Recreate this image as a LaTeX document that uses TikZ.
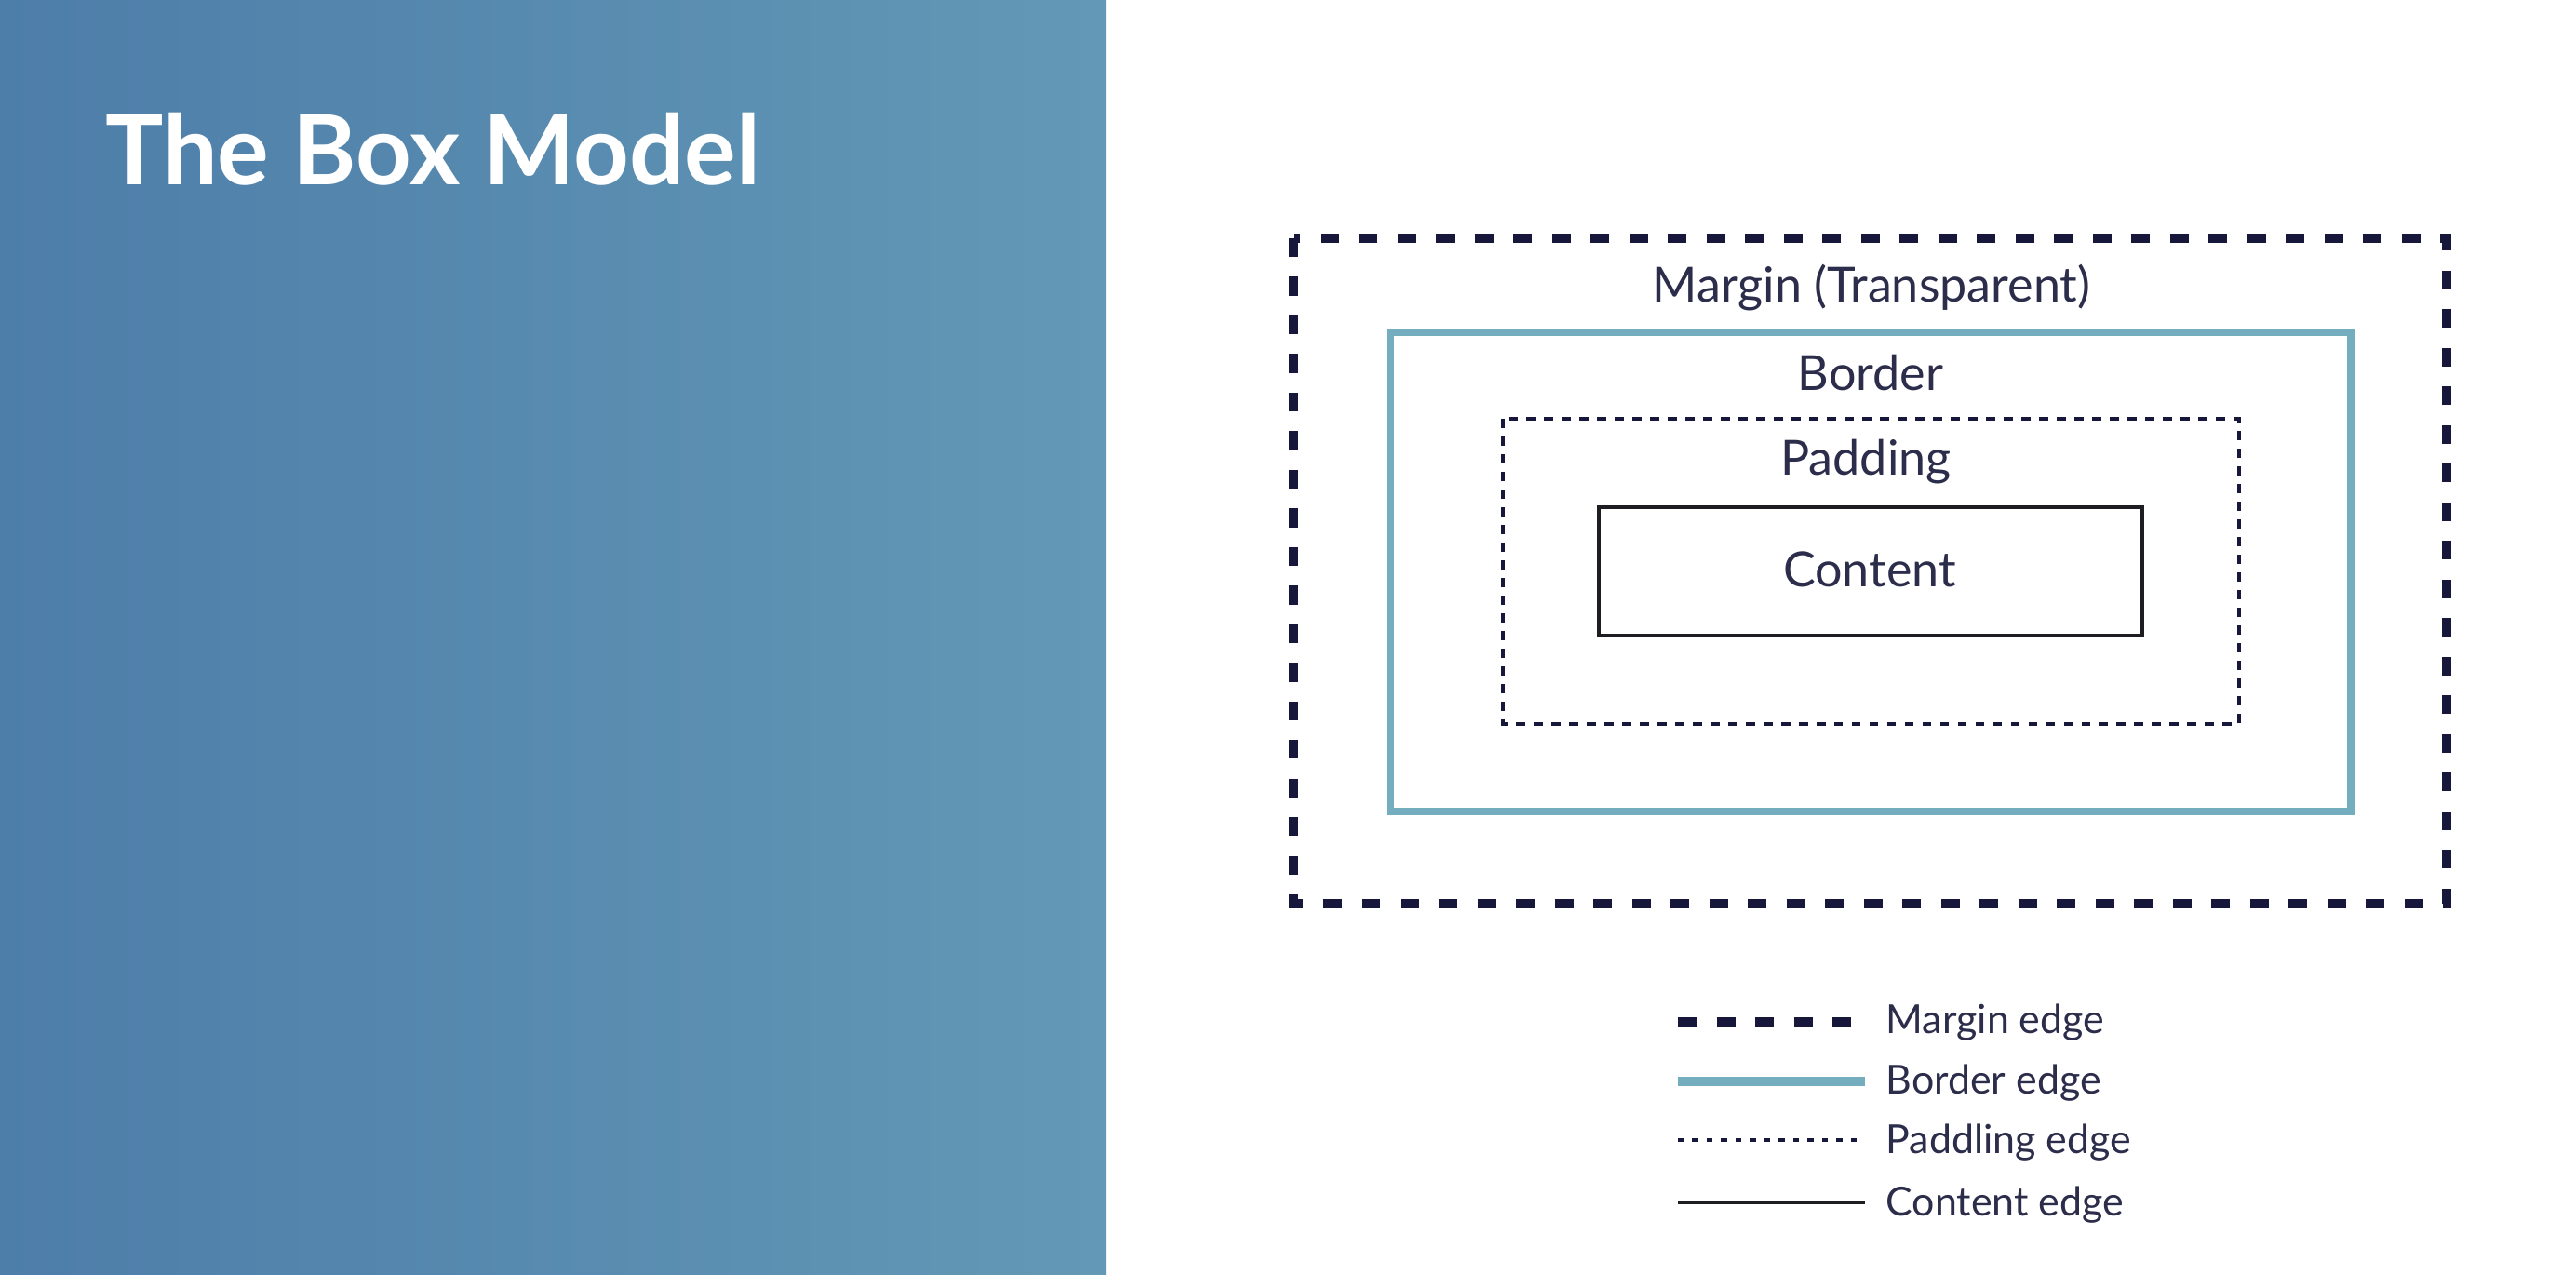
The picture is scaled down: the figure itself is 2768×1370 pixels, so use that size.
\documentclass[tikz,border=0pt]{standalone}
\usepackage{fontspec}
\setmainfont{Lato}
\definecolor{panelL}{HTML}{4D7DA9}
\definecolor{panelR}{HTML}{6399B6}
\definecolor{navy}{HTML}{16173A}
\definecolor{teal}{HTML}{74AEBE}
\definecolor{ink}{HTML}{2B2D4A}
\definecolor{cedge}{HTML}{1E1E22}
\begin{document}
\begin{tikzpicture}[x=0.01cm,y=-0.01cm,
  marginline/.style={draw=navy,line width=2.85pt,dash pattern=on 5.7pt off 6.1pt},
  borderline/.style={draw=teal,line width=2.3pt},
  paddingline/.style={draw=navy,line width=1.1pt,dash pattern=on 2.8pt off 2.6pt},
  contentline/.style={draw=cedge,line width=1.4pt},
  lbl/.style={text=ink,font=\fontsize{14.8}{16}\selectfont,inner sep=0pt},
  leg/.style={text=ink,font=\fontsize{12.2}{14}\selectfont,inner sep=0pt,anchor=west}]
\useasboundingbox (0,0) rectangle (2768,1370);
\fill[white] (0,0) rectangle (2768,1370);
\shade[left color=panelL,right color=panelR] (0,0) rectangle (1188,1370);
\node[anchor=base west,text=white,font=\bfseries\fontsize{29.6}{32}\selectfont,inner sep=0pt] (title) at (113,199) {The Box Model};
% boxes
\draw[marginline] (1390,256) rectangle (2629,971);
\draw[borderline] (1494,357) rectangle (2526,872);
\draw[paddingline] (1615,450) rectangle (2406,778);
\draw[contentline] (1718,545) rectangle (2302,683);
\node[lbl] (mtext) at (2011,309) {Margin (Transparent)};
\node[lbl] (btext) at (2010,401) {Border};
\node[lbl] (ptext) at (2005,496) {Padding};
\node[lbl] (ctext) at (2009,612) {Content};
% legend
\coordinate (m1) at (1803,1098); \coordinate (m2) at (1995,1098);
\coordinate (b1) at (1803,1162); \coordinate (b2) at (2004,1162);
\coordinate (p1) at (1803,1225); \coordinate (p2) at (2004,1225);
\coordinate (c1) at (1803,1292); \coordinate (c2) at (2004,1292);
\draw[marginline] (m1) -- (m2);
\draw[borderline,line width=3pt] (b1) -- (b2);
\draw[paddingline,line width=1.3pt,dash pattern=on 1.8pt off 2.6pt] (p1) -- (p2);
\draw[contentline,line width=1.3pt] (c1) -- (c2);
\node[leg] (lm) at (2026,1099) {Margin edge};
\node[leg] (lb) at (2026,1164) {Border edge};
\node[leg] (lp) at (2026,1228) {Paddling edge};
\node[leg] (lc) at (2026,1295) {Content edge};
\end{tikzpicture}
\end{document}
